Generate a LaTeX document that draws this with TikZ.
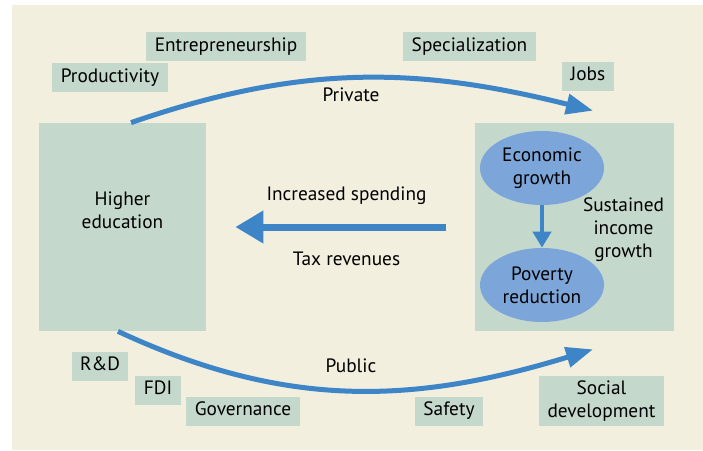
\documentclass[tikz,border=0pt]{standalone}
\usepackage{fontspec}
\setmainfont{PT Sans}
\usepackage{xcolor}
\usepackage{tikz}
\usetikzlibrary{arrows.meta, positioning, shapes.geometric}

\definecolor{bgcream}{RGB}{242,239,222}
\definecolor{boxgreen}{RGB}{197,216,204}
\definecolor{ellblue}{RGB}{124,166,217}
\definecolor{arrblue}{RGB}{61,133,198}

\begin{document}
\begin{tikzpicture}[
  font=\fontsize{11}{13}\selectfont,
  bigbox/.style={
    fill=boxgreen,
    minimum height=4.16cm,
    inner sep=0pt
  },
  tagbox/.style={
    fill=boxgreen,
    inner xsep=0.17cm,
    inner ysep=0pt,
    align=center
  },
  tag/.style={
    tagbox,
    minimum height=0.58cm,
    text height=0.72em,
    text depth=0.22em
  },
  bubble/.style={
    ellipse,
    fill=ellblue,
    minimum width=2.48cm,
    minimum height=1.48cm,
    inner sep=0pt,
    align=center
  },
  flow/.style={
    draw=arrblue,
    line width=0.1cm,
    -{Triangle[length=0.54cm, width=0.4cm]}
  },
  plain/.style={
    anchor=base,
    align=center
  }
]

\useasboundingbox (0,0) rectangle (14.06,9.0);
\fill[bgcream] (0.24,0) rectangle (14.06,8.9);

% -------------------------------------------------------------------
% main boxes
% -------------------------------------------------------------------
\node[bigbox, minimum width=3.34cm] (hied) at (2.45,4.46) {};
\node[align=center] (hiedtext) at (2.45,4.80) {Higher\\education};

\node[bigbox, minimum width=3.98cm] (outcome) at (11.49,4.46) {};

\node[bubble] (econ) at (10.84,5.64) {Economic\\growth};
\node[bubble] (poverty) at (10.84,3.30) {Poverty\\reduction};
\node[align=center] (income) at (12.47,4.40) {Sustained\\income\\growth};

\draw[
  draw=arrblue,
  line width=0.08cm,
  -{Triangle[length=0.32cm, width=0.36cm]}
] (econ) -- (poverty);

% -------------------------------------------------------------------
% flows between the boxes
% -------------------------------------------------------------------
\coordinate (privend) at ([xshift=0.37cm, yshift=0.24cm]outcome.north);
\coordinate (pubend) at ([xshift=0.37cm, yshift=-0.36cm]outcome.south);

\draw[flow] ([xshift=0.17cm]hied.north) to[out=19, in=166] (privend);
\draw[flow] ([xshift=-0.09cm]hied.south) to[out=-25, in=197] (pubend);

\draw[
  draw=arrblue,
  line width=0.14cm,
  -{Triangle[length=0.56cm, width=0.62cm]}
] ([xshift=-0.58cm]outcome.west) -- ([xshift=0.58cm]hied.east);

\node[plain] (private) at (7.02,6.96) {Private};
\node[plain] (spending) at (6.93,5.00) {Increased spending};
\node[plain] (tax) at (6.93,3.70) {Tax revenues};
\node[plain] (public) at (7.02,1.56) {Public};

% -------------------------------------------------------------------
% benefit tags
% -------------------------------------------------------------------
\node[tag] (entre) at (4.52,8.06) {Entrepreneurship};
\node[tag] (prod) at (2.20,7.44) {Productivity};
\node[tag] (spec) at (9.39,8.06) {Specialization};
\node[tag] (jobs) at (11.76,7.47) {Jobs};

\node[tag] (rnd) at (2.00,1.67) {R\&D};
\node[tag] (fdi) at (3.16,1.19) {FDI};
\node[tag] (gov) at (4.86,0.77) {Governance};
\node[tag] (safety) at (8.98,0.77) {Safety};
\node[tagbox, minimum height=1.0cm] (social) at (12.03,0.98) {Social\\development};

\end{tikzpicture}
\end{document}
